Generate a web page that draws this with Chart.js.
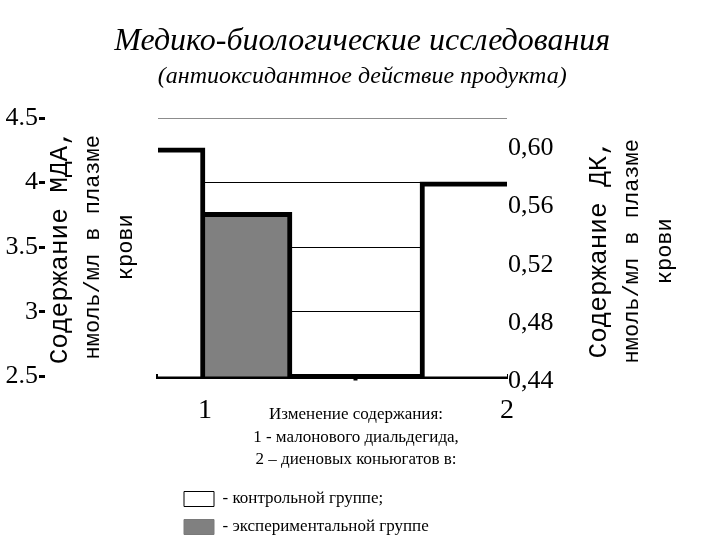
<!DOCTYPE html>
<html>
<head>
<meta charset="utf-8">
<script src="https://cdn.jsdelivr.net/npm/chart.js@4.4.1/dist/chart.umd.min.js"></script>
<style>
  html, body { margin: 0; padding: 0; background: #ffffff; }
  #wrap { width: 720px; height: 540px; position: relative; }
</style>
</head>
<body>
<div id="wrap"><canvas id="chart"></canvas></div>
<script>
// ---------- data ----------
const titleText = 'Медико-биологические исследования';
const subtitleText = '(антиоксидантное действие продукта)';

const categories = [1, 2];                 // 1 - МДА, 2 - ДК
const xTickValues = [1, 1.5, 2];
const xTickLabels = ['1', '', '2'];

const mdaControl = [4.27];                 // category 1, left axis
const mdaExperimental = [3.77];
const dkControl = [0.577];                 // category 2, right axis
const dkExperimental = [0.50];             // lies outside the visible frame (estimate)

const leftTicks = [2.5, 3, 3.5, 4, 4.5];
const leftTickLabels = ['2.5', '3', '3.5', '4', '4.5'];
const rightTicks = [0.44, 0.48, 0.52, 0.56, 0.60];
const rightTickLabels = ['0,44', '0,48', '0,52', '0,56', '0,60'];

const leftTitle1 = 'Содержание МДА,';
const leftTitle2 = ['нмоль/мл в плазме', 'крови'];
const rightTitle1 = 'Содержание ДК,';
const rightTitle2 = ['нмоль/мл в плазме', 'крови'];

const noteLines = ['Изменение содержания:', '1 - малонового диальдегида,', '2 – диеновых коньюгатов в:'];
const legendLabels = ['- контрольной группе;', '- экспериментальной группе'];

// ---------- styling ----------
const SERIF = '"Liberation Serif", "Times New Roman", serif';
const MONO = '"Liberation Mono", "Courier New", monospace';
const CONTROL_FILL = '#ffffff';
const EXP_FILL = '#808080';
const LEGEND_SHIFT = 15;
const RIGHT_TITLE_SPACE = 165.5;

Chart.defaults.color = '#000000';
Chart.defaults.font.family = SERIF;

function drawRotated(ctx, text, x, y, font) {
  ctx.save();
  ctx.font = font;
  ctx.translate(x, y);
  ctx.rotate(-Math.PI / 2);
  ctx.textAlign = 'center';
  ctx.textBaseline = 'middle';
  ctx.fillText(text, 0, 0);
  ctx.restore();
}

const textPlugin = {
  id: 'sideTexts',
  afterLayout(chart) {
    const lg = chart.legend;
    if (lg) { lg.left += LEGEND_SHIFT; lg.right += LEGEND_SHIFT; }
  },
  afterDraw(chart) {
    const ctx = chart.ctx;
    const area = chart.chartArea;
    const cy = (area.top + area.bottom) / 2;
    ctx.save();
    ctx.fillStyle = '#000000';
    const rx = area.right + 47.5;
    drawRotated(ctx, rightTitle1, rx + 44.5, cy + 2, '26px ' + MONO);
    rightTitle2.forEach((t, i) => drawRotated(ctx, t, rx + 77.5 + i * 33, cy + 4, '22px ' + MONO));
    const xs = chart.scales.x;
    const nx = xs.getPixelForValue((categories[0] + categories[1]) / 2);
    ctx.font = '17px ' + SERIF;
    ctx.textAlign = 'center';
    ctx.textBaseline = 'middle';
    noteLines.forEach((t, i) => ctx.fillText(t, nx, xs.top + 38.5 + i * 22.5));
    ctx.restore();
  }
};

const barCommon = { borderColor: '#000000', skipNull: true, clip: 0, barThickness: 87 };

const datasets = [
  Object.assign({
    label: legendLabels[0], yAxisID: 'yL', backgroundColor: CONTROL_FILL,
    borderWidth: { top: 5, right: 5, bottom: 0, left: 5 },
    data: mdaControl.map(v => ({ x: categories[0], y: v }))
  }, barCommon),
  Object.assign({
    label: legendLabels[1], yAxisID: 'yL', backgroundColor: EXP_FILL,
    borderWidth: { top: 5, right: 5, bottom: 0, left: 0 },
    data: mdaExperimental.map(v => ({ x: categories[0], y: v }))
  }, barCommon),
  Object.assign({
    label: legendLabels[0], yAxisID: 'yR', backgroundColor: CONTROL_FILL,
    borderWidth: { top: 5, right: 0, bottom: 0, left: 5 },
    data: dkControl.map(v => ({ x: categories[1], y: v }))
  }, barCommon),
  Object.assign({
    label: legendLabels[1], yAxisID: 'yR', backgroundColor: EXP_FILL,
    borderWidth: { top: 5, right: 5, bottom: 0, left: 0 },
    data: dkExperimental.map(v => ({ x: categories[1], y: v }))
  }, barCommon)
];

new Chart(document.getElementById('chart'), {
  type: 'bar',
  data: { datasets },
  plugins: [textPlugin],
  options: {
    responsive: true,
    maintainAspectRatio: false,
    animation: false,
    layout: { padding: { left: 4.5, right: 0, top: 0, bottom: -5.5 } },
    plugins: {
      tooltip: { enabled: false },
      title: {
        display: true, text: titleText, color: '#000',
        font: { family: SERIF, size: 32, style: 'italic', weight: 'normal' },
        padding: { top: 22, bottom: 0 }
      },
      subtitle: {
        display: true, text: subtitleText, color: '#000',
        font: { family: SERIF, size: 24, style: 'italic', weight: 'normal' },
        padding: { top: 2, bottom: 26.8 }
      },
      legend: {
        display: true, position: 'bottom', fullSize: false, align: 'start',
        labels: {
          boxWidth: 30, boxHeight: 15, padding: 11, color: '#000',
          font: { family: SERIF, size: 17 },
          filter: item => item.datasetIndex < 2,
          generateLabels: chart => Chart.defaults.plugins.legend.labels.generateLabels(chart)
            .map(it => Object.assign(it, {
              lineWidth: 1,
              strokeStyle: it.datasetIndex % 2 === 0 ? '#000000' : '#7a7a7a'
            }))
        }
      }
    },
    scales: {
      x: {
        type: 'linear', position: 'bottom', min: 0.8444, max: 2, z: 1,
        offset: false,
        afterBuildTicks: s => { s.ticks = xTickValues.map(v => ({ value: v })); },
        afterFit: s => { s.height += 39.4; },
        ticks: {
          autoSkip: false, maxRotation: 0, padding: 13, color: '#000',
          font: { family: SERIF, size: 28 },
          callback: (v, i) => xTickLabels[i]
        },
        grid: {
          offset: false,
          drawOnChartArea: false, drawTicks: true, tickLength: 4, tickWidth: 4,
          tickColor: c => (c.tick && xTickLabels[xTickValues.indexOf(c.tick.value)] === '') ? '#000' : 'rgba(0,0,0,0)'
        },
        border: { display: true, width: 5, color: '#000' }
      },
      yL: {
        type: 'linear', position: 'left', weight: 3, min: 2.5, max: 4.5,
        afterBuildTicks: s => { s.ticks = leftTicks.map(v => ({ value: v })); },
        ticks: {
          padding: 1, color: '#000', font: { family: SERIF, size: 26 },
          callback: (v, i) => leftTickLabels[i]
        },
        grid: {
          drawOnChartArea: true, drawTicks: true, tickLength: 6, tickWidth: 3, tickColor: '#000',
          lineWidth: 1,
          color: c => {
            if (!c.tick) return '#000';
            if (c.tick.value === leftTicks[leftTicks.length - 1]) return '#8c8c8c';
            if (c.tick.value === leftTicks[0]) return 'rgba(0,0,0,0)';
            return '#000';
          }
        },
        border: { display: false }
      },
      yL2: {
        type: 'linear', position: 'left', weight: 2, min: 0, max: 1,
        ticks: { display: false },
        grid: { display: false, drawTicks: false },
        border: { display: false },
        title: {
          display: true, text: leftTitle1, color: '#000',
          font: { family: MONO, size: 26 }, padding: { top: 0, bottom: 0 }
        }
      },
      yL3: {
        type: 'linear', position: 'left', weight: 1, min: 0, max: 1,
        ticks: { display: false },
        grid: { display: false, drawTicks: false },
        border: { display: false },
        title: {
          display: true, text: leftTitle2, color: '#000',
          font: { family: MONO, size: 22, lineHeight: 1.5 }, padding: { top: 0, bottom: 15.8 }
        }
      },
      yR: {
        type: 'linear', position: 'right', weight: 0, min: 0.443, max: 0.621,
        afterBuildTicks: s => { s.ticks = rightTicks.map(v => ({ value: v })); },
        afterFit: s => { s.width += RIGHT_TITLE_SPACE; },
        ticks: {
          padding: 1, color: '#000', font: { family: SERIF, size: 26 },
          callback: (v, i) => rightTickLabels[i]
        },
        grid: { display: false, drawTicks: false },
        border: { display: false }
      }
    }
  }
});
</script>
</body>
</html>
